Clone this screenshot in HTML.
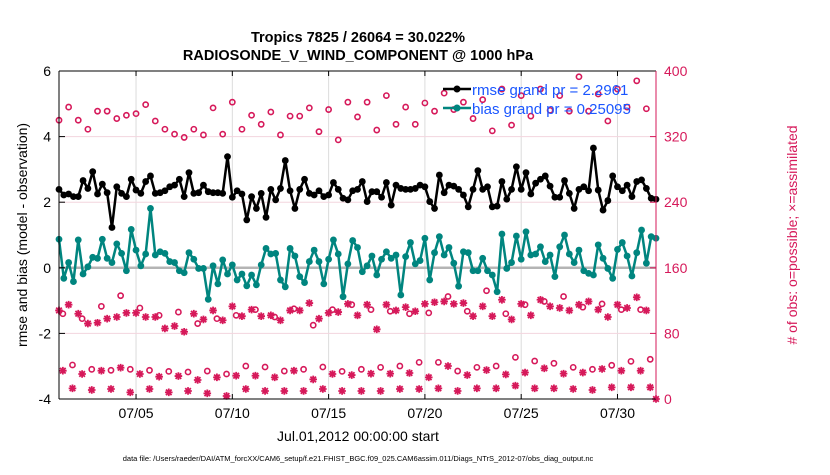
<!DOCTYPE html>
<html><head><meta charset="utf-8"><style>
body{margin:0;background:#fff;width:830px;height:470px;overflow:hidden;font-family:"Liberation Sans",sans-serif}
svg text{font-family:"Liberation Sans",sans-serif}
</style></head><body>
<svg id="chart" width="830" height="470" xmlns="http://www.w3.org/2000/svg">
<g id="grid"></g>
<g id="marks"></g>
<g id="axes"></g>
<text x="358" y="42" text-anchor="middle" font-size="14.5" font-weight="bold">Tropics 7825 / 26064 = 30.022%</text>
<text x="358" y="60" text-anchor="middle" font-size="14.5" font-weight="bold">RADIOSONDE_V_WIND_COMPONENT @ 1000 hPa</text>
<text transform="translate(27,235) rotate(-90)" text-anchor="middle" font-size="14">rmse and bias (model - observation)</text>
<text transform="translate(797,235) rotate(-90)" text-anchor="middle" font-size="14" fill="#d6195a"># of obs: o=possible; ×=assimilated</text>
<text x="358" y="441" text-anchor="middle" font-size="14">Jul.01,2012 00:00:00 start</text>
<text x="358" y="461" text-anchor="middle" font-size="7.5">data file: /Users/raeder/DAI/ATM_forcXX/CAM6_setup/f.e21.FHIST_BGC.f09_025.CAM6assim.011/Diags_NTrS_2012-07/obs_diag_output.nc</text>
<g>
<line x1="443" y1="89" x2="471" y2="89" stroke="#000" stroke-width="2.5"/>
<circle cx="457" cy="89" r="3.5" fill="#000"/>
<text x="472" y="95" font-size="15" fill="#1a56ff">rmse grand pr = 2.2961</text>
<line x1="443" y1="108" x2="471" y2="108" stroke="#00857f" stroke-width="2.5"/>
<circle cx="457" cy="108" r="3.5" fill="#00857f"/>
<text x="472" y="114" font-size="15" fill="#1a56ff">bias grand pr = 0.25095</text>
</g>
</svg>
<script>
const rmse=[2.39,2.22,2.25,2.17,2.17,2.66,2.42,2.93,2.25,2.55,2.29,1.23,2.47,2.27,2.17,2.70,2.37,2.27,2.63,2.80,2.27,2.29,2.35,2.47,2.52,2.70,2.17,2.90,2.27,2.29,2.52,2.32,2.29,2.29,2.27,3.39,2.15,2.35,2.25,1.46,2.17,1.81,2.27,1.54,
2.39,2.07,2.42,3.27,2.35,1.81,2.39,2.70,2.27,2.22,2.35,2.17,2.22,2.60,2.39,2.12,2.07,2.35,2.39,2.63,2.02,2.32,2.32,2.15,2.60,1.91,2.52,2.42,2.39,2.39,2.42,2.52,2.47,2.02,1.81,2.83,2.29,2.52,2.49,2.39,2.22,
1.86,2.39,2.96,2.39,2.47,1.86,1.88,2.63,2.09,2.39,3.08,2.39,2.90,2.25,2.58,2.70,2.80,2.49,2.15,2.15,2.66,2.27,1.81,2.39,2.47,2.35,3.65,2.37,1.76,2.05,2.80,2.47,2.35,2.52,2.17,2.63,2.68,2.42,2.12,2.09];
const bias=[0.87,-0.32,0.16,-0.42,0.85,-0.19,0.03,0.32,0.29,0.87,0.29,0.16,0.73,0.44,-0.09,1.17,0.54,0.06,0.42,1.81,0.39,0.49,0.44,0.19,0.16,-0.09,-0.15,0.46,0.26,-0.02,-0.02,-0.96,0.06,-0.49,0.24,-0.19,0.09,-0.37,-0.19,-0.55,-0.22,-0.52,0.09,0.59,
0.42,0.44,-0.37,-0.58,0.59,0.36,-0.27,-0.45,0.19,0.54,0.19,-0.49,0.26,0.85,0.42,-0.88,0.12,0.83,0.62,-0.12,0.06,0.36,-0.22,0.26,0.49,0.29,0.39,-0.83,0.34,0.77,0.12,0.22,0.90,-0.37,0.46,0.95,0.39,0.62,0.14,-0.56,0.49,
0.46,-0.09,-0.09,0.29,-0.09,-0.22,-0.73,1.03,-0.02,0.16,0.97,0.26,1.10,0.39,0.42,0.64,0.19,0.39,-0.27,0.64,1.00,0.42,0.16,0.54,-0.09,-0.17,-0.22,0.70,0.29,-0.02,-0.32,0.56,0.77,0.36,-0.25,0.46,1.15,0.14,0.95,0.90];
const possTop=[340,356,340,329,351,351,342,346,348,359,339,329,323,319,329,322,355,323,362,329,346,335,350,322,345,345,355,326,353,316,362,344,362,328,370,335,356,335,361,351,373,353,362,342,365,327,378,334,370,345,378,352,370,351,393,351,372,339,378,356,388,354];
const assimMid=[108,115,104,92,93,98,100,105,105,100,100,86,89,82,104,97,108,96,113,101,109,101,102,96,108,108,117,98,105,106,116,102,
115,85,115,108,112,107,116,118,119,116,117,101,113,101,121,97,116,102,121,113,111,108,115,119,109,100,115,111,124,108,0];
const possMid=[104,98,113,126,111,102,106,92,98,102,109,100,110,90,109,115,109,107,104,105,125,107,132,104,115,119,125,112,116,109,109];
const assimLowA=[34.5,30.5,34.5,38.2,30.5,27.2,28,23.2,26.4,28.4,28.4,26.4,34.5,23.9,30.5,29.2,30.9,30.9,31.7,26.4,40.2,29.2,35.3,30,32.3,37.4,30.9,32.3,36.6,34.5,34.5];
const possLow=[41.5,36.2,35,36.2,35,33.7,32.9,34.1,30.5,40.2,39,34.1,36.2,39,33.7,36.2,38.6,40.2,44.7,44.7,34.1,38.6,40.2,50.8,46.3,43.5,38.6,36.2,41.1,45.9,48.4];
const assimLowest=[13,11,12.2,8.1,12.2,8.1,9.8,6.9,3.7,12.2,9.8,9.8,9.8,12.2,9.8,9.8,9.8,12.2,12.2,13,9.8,13,13,16.3,13,13,12.2,11,14.2,14.2,14.2];
const dateTicks=[5,10,15,20,25,30];
const dateLabels=["07/05","07/10","07/15","07/20","07/25","07/30"];
const leftTicks=[-4,-2,0,2,4,6];
const rightTicks=[0,80,160,240,320,400];

const NS="http://www.w3.org/2000/svg";
const L=59,R=656,T=71,B=399,D0=1,D1=32;
const MAG="#d6195a",TEAL="#00857f";
const xs=d=>L+(d-D0)/(D1-D0)*(R-L);
const yl=v=>B-(v+4)/10*(B-T);
const yr=c=>B-c/400*(B-T);
function mk(tag,attrs,parent){const e=document.createElementNS(NS,tag);for(const k in attrs)e.setAttribute(k,attrs[k]);parent.appendChild(e);return e;}
const grid=document.getElementById('grid'),marks=document.getElementById('marks'),axes=document.getElementById('axes');
dateTicks.forEach((d,i)=>{
 const g=mk('line',{x1:xs(d),x2:xs(d),y1:T,y2:B,stroke:'#dcdcdc','stroke-width':1},grid);
 
 
 const t=mk('text',{x:xs(d),y:418,'text-anchor':'middle','font-size':14},axes);
 t.textContent=dateLabels[i];
 
 
 mk('line',{x1:xs(d),x2:xs(d),y1:B,y2:B-5,stroke:'#000'},axes);
 mk('line',{x1:xs(d),x2:xs(d),y1:T,y2:T+5,stroke:'#000'},axes);
});
rightTicks.forEach(c=>{
 if(c>0&&c<400){const g=mk('line',{x1:L,x2:R,y1:yr(c),y2:yr(c),stroke:'#f3d5de','stroke-width':1},grid);
 
 }
 const t=mk('text',{x:R+8,y:yr(c)+5,'font-size':14,fill:MAG},axes);
 t.textContent=c;
 
 
 mk('line',{x1:R,x2:R-6,y1:yr(c),y2:yr(c),stroke:MAG},axes);
});
leftTicks.forEach(v=>{
 const t=mk('text',{x:L-8,y:yl(v)+5,'text-anchor':'end','font-size':14},axes);
 t.textContent=v;
 
 
 mk('line',{x1:L,x2:L+6,y1:yl(v),y2:yl(v),stroke:'#000'},axes);
});
const zl=mk('line',{x1:L,x2:R,y1:yl(0),y2:yl(0),stroke:'#b4b4b4','stroke-width':2.5},grid);


mk('line',{x1:L,x2:R,y1:T,y2:T,stroke:'#000'},axes);
mk('line',{x1:L,x2:R,y1:B,y2:B,stroke:'#000'},axes);
mk('line',{x1:L,x2:L,y1:T,y2:B,stroke:'#000'},axes);
mk('line',{x1:R,x2:R,y1:T,y2:B,stroke:MAG},axes);

function circ(arr,t0,dt,name){arr.forEach((c,i)=>{
 const e=mk('circle',{cx:xs(t0+i*dt),cy:yr(c),r:2.6,fill:'none',stroke:MAG,'stroke-width':1.6},marks);
 
 });}
function star(arr,t0,dt,name){arr.forEach((c,i)=>{
 const x=xs(t0+i*dt),y=yr(c),s=3.8,s2=2.8;
 const e=mk('path',{d:`M${x-s} ${y}H${x+s}M${x} ${y-s}V${y+s}M${x-s2} ${y-s2}L${x+s2} ${y+s2}M${x-s2} ${y+s2}L${x+s2} ${y-s2}`,stroke:MAG,'stroke-width':1.8},marks);
 
 });}
circ(possTop,1,0.5,'possible-obs-marker');
star(assimMid,1,0.5,'assimilated-obs-marker');
circ(possMid,1.2,1,'possible-obs-marker');
star(assimLowA,1.2,1,'assimilated-obs-marker');
circ(possLow,1.7,1,'possible-obs-marker');
star(assimLowest,1.7,1,'assimilated-obs-marker');

function series(arr,color,name){
 const pts=arr.map((v,i)=>[xs(1+i*0.25),yl(v)]);
 const p=mk('polyline',{points:pts.map(p=>p.join(',')).join(' '),fill:'none',stroke:color,'stroke-width':2.5,'stroke-linejoin':'round'},marks);
 
 
 pts.forEach(q=>{const c=mk('circle',{cx:q[0],cy:q[1],r:3.4,fill:color},marks);
 
 });
}
series(bias,TEAL,'bias');
series(rmse,'#000','rmse');
</script>
</body></html>
